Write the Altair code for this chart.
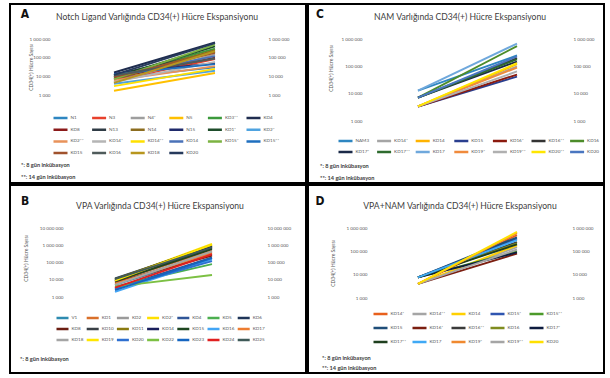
import math
import altair as alt
import pandas as pd

# ---------------- data ----------------
A_SERIES = ["N1", "N3", "N4*", "N5", "KD3**", "KD4",
            "KD8", "N13", "N14", "N15", "KD1*", "KD2*",
            "KD2**", "KD14*", "KD14**", "KD14", "KD15*", "KD15**",
            "KD15", "KD16", "KD18", "KD20"]
A_START = [8000, 6000, 5000, 1700, 10000, 16000,
           8000, 12000, 7000, 14000, 9000, 4000,
           6000, 5000, 3000, 10000, 7000, 13000,
           9000, 11000, 4500, 12000]
A_END = [30000, 85000, 150000, 15000, 300000, 650000,
         100000, 200000, 250000, 50000, 400000, 20000,
         35000, 60000, 25000, 120000, 500000, 45000,
         180000, 90000, 220000, 600000]
A_COLORS = ["#2E86C1", "#E8412C", "#9E9E9E", "#FFC000", "#3C9A3C", "#1F2D4F",
            "#8B1A1A", "#2F3B45", "#8C6D1F", "#1F2A6B", "#1E4D2B", "#4FA3E0",
            "#E8925A", "#B5B5B5", "#FFE000", "#4A72B8", "#7CB342", "#1F6FBF",
            "#A0522D", "#4F5B5B", "#B8961E", "#263A5C"]

C_SERIES = ["NAM3", "KD14*", "KD14", "KD15", "KD16*", "KD16**", "KD16",
            "KD17*", "KD17**", "KD17", "KD19*", "KD19**", "KD20**", "KD20"]
C_START = [13000, 3400, 3400, 3400, 3400, 7200, 7200,
           7200, 7200, 13000, 3400, 3400, 3400, 7200]
C_END = [250000, 100000, 120000, 42000, 50000, 200000, 550000,
         150000, 180000, 680000, 90000, 65000, 130000, 230000]
C_COLORS = ["#2E86C1", "#A5A5A5", "#FFB300", "#2A3F8F", "#8B1A0E", "#333333", "#4D8C2A",
            "#1B2A48", "#2E6B2E", "#6FA8DC", "#F08A3C", "#B0B0B0", "#FFE600", "#4A76C0"]

B_SERIES = ["V1", "KD1", "KD2", "KD2*", "KD4", "KD5", "KD6",
            "KD8", "KD10", "KD11", "KD14", "KD15", "KD16", "KD17",
            "KD18", "KD19", "KD20", "KD22", "KD23", "KD24", "KD25"]
B_START = [5000, 8000, 6000, 10000, 3000, 4000, 12000,
           7000, 9000, 11000, 10000, 8000, 2000, 6000,
           5000, 9000, 3000, 4000, 2500, 3500, 11000]
B_END = [300000, 500000, 400000, 1200000, 200000, 80000, 900000,
         250000, 700000, 1000000, 800000, 600000, 150000, 350000,
         450000, 1100000, 120000, 19000, 180000, 300000, 750000]
B_COLORS = ["#2E8BB0", "#D9702A", "#9A9A9A", "#FFE000", "#2F5597", "#4CAF50", "#1F3558",
            "#6B1E12", "#3A4046", "#8A7A10", "#1A1F5C", "#1E4620", "#42A5F5", "#ED7D31",
            "#A5A5A5", "#FFE600", "#2E6FD0", "#7CC043", "#1565C0", "#E02020", "#3F5A58"]

D_SERIES = ["KD14*", "KD14**", "KD14", "KD15*", "KD15**",
            "KD15", "KD16*", "KD16**", "KD16", "KD17*",
            "KD17**", "KD17", "KD19*", "KD19**", "KD20"]
D_START = [4000, 4000, 4000, 7700, 7700,
           7700, 4000, 7700, 7700, 7700,
           7700, 7700, 4000, 4000, 4000]
D_END = [500000, 150000, 180000, 350000, 100000,
         400000, 80000, 250000, 220000, 90000,
         200000, 300000, 600000, 120000, 680000]
D_COLORS = ["#E8601C", "#A5A5A5", "#FFD000", "#2F55B0", "#4C9A2A",
            "#1F4E79", "#7B1E10", "#3A3A3A", "#7F8C1F", "#0D1B3E",
            "#1E3F1E", "#3FA9F5", "#F0892F", "#A5A5A5", "#FFE000"]

Y_TICKS_4 = [1000, 10000, 100000, 1000000]
Y_LABELS_4 = ["1 000", "10 000", "100 000", "1 000 000"]
Y_TICKS_5 = [1000, 10000, 100000, 1000000, 10000000]
Y_LABELS_5 = ["1 000", "10 000", "100 000", "1 000 000", "10 000 000"]

X_LABELS_A = ["Başlangıç", "Ekspansiyon sonrası"]
X_LABELS_BC = ["Başlangıç", "Ekspansiyon Sonrası"]
X_LABELS_D = ["Başlangıç", ""]

TITLE_A = "Notch Ligand Varlığında CD34(+) Hücre Ekspansiyonu"
TITLE_B = "VPA Varlığında CD34(+) Hücre Ekspansiyonu"
TITLE_C = "NAM Varlığında CD34(+) Hücre Ekspansiyonu"
TITLE_D = "VPA+NAM Varlığında CD34(+) Hücre Ekspansiyonu"
Y_TITLE = "CD34(+) Hücre Sayısı"
FOOT_2 = ["*: 8 gün inkübasyon", "**: 14 gün inkübasyon"]
FOOT_1 = ["*: 8 gün inkübasyon"]

FONT = "Lato"
LETTER_FONT = "'DejaVu Sans Condensed', 'Roboto', sans-serif"
GREY = "#595959"

# ---------------- layout (pixels, relative to each panel frame) ----------------
LAY_A = dict(W=296, H=179, x0=104, x1=205, ytv=1e6, ytp=35, ybv=1e3, ybp=91,
             la=42, ra=256, ytx=20, yty=63, xly=96, lx=15, ly=10, toff=-22, tdx=-1,
             lgx=42, lgy=110.5, cols=6, sym=14, ch=7, rp=4.7, cp=3.6, fx=11, fy=[161, 173])
LAY_C = dict(W=296, H=179, x0=110, x1=209, ytv=1e6, ytp=35, ybv=1e3, ybp=117,
             la=56, ra=263, ytx=22, yty=64, xly=124, lx=12, ly=10, toff=-22, tdx=4,
             lgx=29, lgy=133.5, cols=7, sym=14, ch=7, rp=4, cp=3.6, fx=12, fy=[162, 174])
LAY_B = dict(W=296, H=188, x0=105, x1=202, ytv=1e7, ytp=43, ybv=1e3, ybp=112,
             la=55, ra=255, ytx=15, yty=73, xly=118, lx=15, ly=16, toff=-30, tdx=2,
             lgx=45, lgy=129.5, cols=7, sym=12, ch=7, rp=4, cp=1.2, fx=10, fy=[174])
LAY_D = dict(W=296, H=188, x0=110, x1=209, ytv=1e6, ytp=43, ybv=1e3, ybp=113,
             la=61, ra=262, ytx=24, yty=78, xly=120, lx=12, ly=16, toff=-30, tdx=4,
             lgx=64, lgy=125.5, cols=5, sym=14, ch=7, rp=7, cp=4, fx=14, fy=[173, 183])


def panel(letter, title, names, start, end, colors, xlabels, yticks, ylabels, foot, L):
    W, H = L["W"], L["H"]
    rows = []
    for n, s, e in zip(names, start, end):
        rows.append({"series": n, "step": 0, "value": s})
        rows.append({"series": n, "step": 1, "value": e})
    df = pd.DataFrame(rows)

    k = L["x1"] - L["x0"]
    d0 = -L["x0"] / k
    d1 = d0 + W / k
    xscale = alt.Scale(domain=[d0, d1], nice=False, zero=False)

    lt, lb = math.log10(L["ytv"]), math.log10(L["ybv"])
    ppd = (L["ybp"] - L["ytp"]) / (lt - lb)
    hi = lt + L["ytp"] / ppd
    lo = lb - (H - L["ybp"]) / ppd
    yscale = alt.Scale(type="log", domain=[10 ** lo, 10 ** hi], nice=False)

    yexpr = " : ".join(f"datum.value == {v} ? '{t}'" for v, t in zip(yticks, ylabels)) + " : ''"
    xexpr = f"datum.value == 0 ? '{xlabels[0]}' : datum.value == 1 ? '{xlabels[1]}' : ''"

    left_axis = alt.Axis(orient="left", offset=-L["la"], values=yticks, labelExpr=yexpr,
                         grid=False, domain=False, ticks=False, labelPadding=2,
                         labelFontSize=4.6, labelFont=FONT, labelColor=GREY, labelOverlap=False,
                         title=Y_TITLE, titleFontSize=5, titleFont=FONT, titleColor=GREY,
                         titleFontWeight="normal", titleX=L["ytx"] - L["la"], titleY=L["yty"],
                         titleAngle=270, titleAlign="center", titleBaseline="middle")
    right_axis = alt.Axis(orient="right", offset=L["ra"] - W, values=yticks, labelExpr=yexpr,
                          grid=False, domain=False, ticks=False, labelPadding=2,
                          labelFontSize=4.6, labelFont=FONT, labelColor=GREY,
                          labelOverlap=False, title=None)
    x_axis = alt.Axis(orient="bottom", offset=L["xly"] - H, values=[0, 1], labelExpr=xexpr,
                      grid=False, domain=False, ticks=False, labelPadding=0,
                      labelBaseline="middle", labelFontSize=4.8, labelFont=FONT,
                      labelColor=GREY, labelFlush=False, labelOverlap=False, title=None)

    legend = alt.Legend(orient="none", legendX=L["lgx"], legendY=L["lgy"], columns=L["cols"],
                        direction="horizontal",
                        title=None, symbolType="stroke", symbolSize=L["sym"] ** 2,
                        symbolStrokeWidth=2.5, labelFontSize=4.6, labelFont=FONT,
                        labelColor=GREY, labelOffset=1.5, clipHeight=L["ch"],
                        rowPadding=L["rp"], columnPadding=L["cp"], gridAlign="all",
                        padding=0, labelLimit=60)

    lines = alt.Chart(df).mark_line(strokeWidth=1.9).encode(
        x=alt.X("step:Q", scale=xscale, axis=x_axis),
        y=alt.Y("value:Q", scale=yscale, axis=left_axis),
        color=alt.Color("series:N", scale=alt.Scale(domain=names, range=colors), legend=legend),
    )
    right = alt.Chart(df).mark_point(opacity=0, size=1).encode(
        x=alt.X("step:Q", scale=xscale, axis=None),
        y=alt.Y("value:Q", scale=yscale, axis=right_axis),
    )
    let = alt.Chart(pd.DataFrame({"t": [letter]})).mark_text(
        font=LETTER_FONT, fontSize=12, fontWeight="bold", color="#111111",
        align="center", baseline="middle").encode(
        text="t:N", x=alt.value(L["lx"]), y=alt.value(L["ly"]))
    layers = [lines, right, let]
    for line_txt, fy in zip(foot, L["fy"]):
        layers.append(alt.Chart(pd.DataFrame({"t": [line_txt]})).mark_text(
            font=FONT, fontSize=5.6, fontWeight="bold", color="#3a3a3a",
            align="left", baseline="middle").encode(
            text="t:N", x=alt.value(L["fx"]), y=alt.value(fy)))

    return alt.layer(*layers).resolve_axis(y="independent").properties(
        width=W, height=H,
        title=alt.TitleParams(text=title, anchor="middle", frame="group", offset=L["toff"],
                              dx=L["tdx"], baseline="middle", fontSize=8.6, font=FONT,
                              fontWeight="normal", color="#404040"))


pA = panel("A", TITLE_A, A_SERIES, A_START, A_END, A_COLORS, X_LABELS_A, Y_TICKS_4, Y_LABELS_4, FOOT_2, LAY_A)
pC = panel("C", TITLE_C, C_SERIES, C_START, C_END, C_COLORS, X_LABELS_BC, Y_TICKS_4, Y_LABELS_4, FOOT_2, LAY_C)
pB = panel("B", TITLE_B, B_SERIES, B_START, B_END, B_COLORS, X_LABELS_BC, Y_TICKS_5, Y_LABELS_5, FOOT_1, LAY_B)
pD = panel("D", TITLE_D, D_SERIES, D_START, D_END, D_COLORS, X_LABELS_D, Y_TICKS_4, Y_LABELS_4, FOOT_2, LAY_D)

chart = alt.concat(pA, pC, pB, pD, columns=2, spacing=2, bounds="flush", align="each").resolve_scale(
    x="independent", y="independent", color="independent"
).resolve_legend(color="independent").properties(
    padding={"left": 9, "top": 3, "right": 5, "bottom": 4}, background="white"
).configure_view(stroke="#000000", strokeWidth=2)

chart.save("out.html", embed_options={"renderer": "svg", "actions": False})
